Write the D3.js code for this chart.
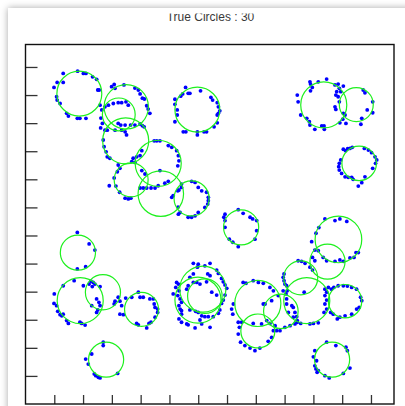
<!DOCTYPE html>
<html>
<head>
<meta charset="utf-8">
<script src="https://cdn.jsdelivr.net/npm/d3@7"></script>
<style>
  html, body { margin: 0; padding: 0; background: #ffffff; overflow: hidden; }
  #card {
    position: absolute; left: 8px; top: 8px; width: 520px; height: 520px;
    background: #ffffff; box-shadow: 0 0 7px rgba(0,0,0,0.35);
  }
  #chart { position: absolute; left: 0; top: 0; }
</style>
</head>
<body>
<div id="card"></div>
<svg id="chart" width="405" height="406"></svg>
<script>
// Fitted circles: centre and radius in plot units
const circleX = [18.7, 35.0, 32.4, 34.8, 46.1, 36.7, 47.0, 57.7, 59.7, 103.6,
                 114.9, 115.9, 74.9, 108.7, 104.9, 95.6, 97.7, 111.0, 80.7, 88.7,
                 80.7, 106.5, 18.2, 19.0, 26.9, 40.3, 28.0, 61.6, 59.9, 62.3];
const circleY = [110.5, 105.8, 103.1, 93.7, 85.7, 79.8, 74.9, 73.2, 104.8, 106.5,
                 106.6, 85.7, 62.9, 58.6, 50.7, 44.9, 36.8, 36.6, 35.8, 33.0,
                 26.0, 15.8, 53.9, 36.8, 39.8, 33.7, 15.8, 40.9, 37.0, 38.4];
const circleR = [7.8, 7.7, 5.7, 8.0, 8.0, 5.9, 7.9, 6.1, 7.8, 8.0,
                 5.9, 6.0, 6.1, 8.1, 6.1, 5.9, 8.0, 5.8, 8.0, 6.0,
                 5.9, 6.1, 6.1, 8.0, 6.1, 5.9, 6.1, 8.0, 8.0, 6.0];

// Noisy samples scattered around the circles
const samplePoints = [
  [13.1,117.7],[18.1,118.5],[20.1,117.7],[21.0,117.7],[23.3,116.5],[24.7,115.6],[25.1,111.8],[25.6,111.8],
  [9.9,112.7],[11.0,114.5],[13.1,114.5],[10.8,109.4],[11.0,108.2],[12.0,107.0],[14.3,103.5],[14.9,102.5],
  [18.0,101.7],[18.9,101.7],[21.0,101.7],
  [30.8,113.8],[29.9,113.0],[31.1,112.4],[34.2,113.6],[38.0,112.5],[25.9,106.4],[26.5,104.7],[27.6,105.8],
  [28.8,106.4],[30.5,107.0],[32.2,107.3],[33.4,107.3],[34.9,107.6],[35.7,106.4],[26.2,101.8],[26.7,99.9],
  [26.1,98.3],[32.2,99.9],[33.1,99.3],[34.6,99.3],[36.5,99.3],[38.0,99.3],[27.6,97.5],[28.4,97.5],
  [31.1,97.5],[33.4,97.5],[34.6,96.9],[35.1,95.8],[27.0,94.0],[27.3,91.6],[28.0,89.8],[28.4,88.0],
  [29.3,87.5],[32.2,85.1],[32.8,83.9],[31.9,82.7],[36.9,86.3],[37.4,87.5],[38.6,88.0],[39.2,111.8],
  [39.8,110.4],[40.6,108.9],[41.3,108.6],[42.1,106.2],[42.6,105.0],[43.2,103.5],[39.8,99.7],[40.6,99.1],
  [41.2,98.7],
  [44.7,93.7],[45.6,93.7],[46.7,93.7],[49.6,92.0],[50.8,91.4],[52.5,90.2],[53.1,88.4],[53.3,86.6],
  [52.9,84.8],[40.4,90.2],[39.8,88.4],[38.0,86.0],[39.8,76.9],[40.9,76.9],[42.1,76.9],[43.6,76.9],
  [45.0,76.9],[46.1,77.7],[48.4,78.6],[49.6,79.3],[40.4,83.1],[41.5,81.9],
  [29.1,77.7],[34.6,73.3],[35.7,73.0],[36.6,73.3],[30.8,80.5],[31.4,77.6],[32.7,75.4],[46.7,83.1],
  [50.8,73.6],[51.3,74.2],[52.9,75.9],[53.3,76.2],[54.2,77.1],[54.2,78.3],[57.7,79.3],[58.9,78.9],
  [60.0,77.1],[61.2,75.9],[62.9,75.4],[63.5,73.6],[63.5,72.4],[63.3,71.2],[62.3,70.0],[60.0,68.2],
  [58.9,67.0],[57.7,66.5],[56.5,66.5],[53.1,67.6],[53.7,68.2],[53.0,70.1],
  [55.6,112.7],[60.8,111.5],[54.6,110.4],[56.5,110.6],[57.1,110.6],[53.9,109.6],[51.9,108.5],[51.9,106.7],
  [52.7,104.7],[52.7,102.9],[51.9,100.5],[64.4,109.2],[65.0,108.2],[66.6,107.3],[67.0,105.8],[67.5,104.4],
  [67.0,103.5],[66.6,102.9],[66.6,100.1],[65.5,98.7],[54.8,96.9],[55.7,96.9],[59.7,96.9],[59.7,95.8],
  [62.0,96.9],[62.9,96.9],
  [98.8,114.7],[99.0,113.9],[101.7,114.7],[104.6,115.7],[99.6,112.7],[99.0,111.5],[94.4,110.0],[94.7,107.6],
  [95.6,102.9],[97.7,101.7],[98.6,100.5],[98.8,99.3],[100.5,97.8],[102.9,99.0],[103.7,99.0],[103.8,97.8],
  [107.5,113.6],[108.6,113.9],[109.0,112.4],[108.1,111.2],[109.5,111.2],[110.4,113.2],[107.8,110.0],[108.6,109.4],
  [109.0,107.6],[107.5,105.8],[107.8,104.9],[110.4,103.5],[111.0,102.9],[110.2,101.4],[111.3,99.9],[109.2,100.1],
  [117.3,111.8],[117.9,110.8],[120.6,107.6],[118.7,104.7],[120.6,103.7],[116.8,101.7],[116.5,99.6],
  [110.4,90.7],[111.2,90.2],[111.9,90.9],[112.7,91.0],[113.5,91.4],[117.7,91.0],[119.1,90.4],[120.2,89.5],
  [121.4,88.0],[122.0,86.9],[121.6,85.7],[120.6,83.9],[117.9,80.9],[109.5,86.9],[109.0,85.7],[108.8,84.5],
  [109.0,83.3],[109.8,82.1],[111.0,80.9],[112.1,80.7],[113.3,80.7],[113.8,80.0],[116.8,78.8],[115.6,77.6],
  [73.9,69.2],[75.6,67.9],[69.3,67.6],[68.9,66.5],[69.3,65.3],[78.0,66.5],[78.9,65.9],[80.3,65.3],
  [69.3,62.9],[70.8,58.7],[72.0,57.6],[73.9,56.0],[79.7,58.7],[80.3,61.7],
  [104.0,65.9],[107.5,65.3],[109.2,65.9],[111.6,65.0],[101.9,62.8],[100.9,60.8],[99.4,57.8],[100.5,54.8],
  [101.7,54.6],[114.8,53.9],[115.6,53.9],[99.7,52.2],[100.5,51.0],[103.4,52.2],[104.6,51.0],[107.5,50.8],
  [109.2,51.3],[110.4,50.8],[112.7,52.0],[114.1,52.2],
  [89.8,46.3],[89.5,45.1],[89.8,43.9],[90.1,42.7],[90.7,42.1],[94.7,51.0],[95.9,50.8],[97.1,50.1],
  [98.8,48.7],[99.7,47.7],[96.8,39.8],
  [90.9,40.3],[90.5,39.2],[90.7,35.6],[91.3,32.6],[93.0,30.9],[94.4,29.1],[95.6,28.7],[98.8,28.5],
  [100.0,28.7],[101.7,28.9],[104.0,40.9],[104.6,39.8],[104.0,38.6],[104.6,37.0],[104.0,35.6],[104.6,33.8],
  [103.7,32.6],
  [105.2,41.5],[106.3,40.9],[107.1,41.5],[108.6,42.1],[110.4,42.1],[111.8,42.0],[113.3,41.5],[115.0,40.9],
  [116.4,38.0],[116.8,36.8],[115.9,34.4],[115.0,33.8],[113.3,32.0],[111.0,31.4],[109.2,30.9],[108.3,30.3],
  [106.9,32.0],[106.0,32.6],
  [75.6,43.3],[76.6,43.0],[79.1,43.9],[80.9,43.3],[82.6,43.0],[84.9,41.5],[86.1,40.3],[87.8,38.6],
  [72.2,35.6],[71.6,33.8],[72.0,32.0],[75.1,29.1],[82.6,35.6],[83.2,35.6],[85.5,36.8],[79.1,28.7],
  [82.0,28.5],[84.9,28.7],
  [89.5,40.3],[90.7,37.4],[92.5,35.0],[93.0,34.4],[93.6,32.6],[94.2,31.1],[94.4,29.7],[93.6,28.5],
  [91.9,27.9],[90.1,27.3],[88.4,26.1],[87.2,26.1],[86.7,27.9],
  [73.9,29.1],[74.3,27.3],[73.9,24.9],[74.7,22.0],[76.2,20.8],[78.0,19.9],[79.7,19.0],[81.4,19.9],
  [84.3,22.3],[85.5,23.7],[86.1,26.1],[83.8,29.7],
  [104.6,22.0],[107.8,20.8],[111.3,20.2],[111.8,19.0],[100.5,19.0],[100.0,16.8],[101.1,15.4],[100.5,13.6],
  [100.9,12.5],[101.7,11.9],[101.3,11.3],[104.0,10.1],[105.5,9.3],[110.4,10.9],[112.7,12.8],
  [18.0,61.1],[22.1,57.0],[24.1,54.8],[20.9,48.9],[18.0,48.1],
  [10.0,39.2],[9.9,35.8],[10.8,35.0],[11.2,33.0],[12.0,31.8],[12.6,31.4],[13.1,32.0],[14.3,29.7],
  [14.9,28.7],[18.9,29.1],[19.5,28.7],[20.7,28.1],[13.1,42.1],[16.9,43.9],[20.1,42.1],[22.1,42.7],
  [22.7,43.7],[23.5,43.3],[24.1,42.7],[23.2,41.8],[25.9,41.8],[24.7,37.4],[25.5,36.2],[25.9,35.0],
  [25.1,33.5],[24.7,32.6],[23.0,35.0],[31.1,36.6],[30.8,35.6],[32.2,38.0],
  [32.8,36.6],[33.4,35.0],[32.8,32.0],[34.0,31.8],[34.8,37.7],[36.9,38.0],[39.2,39.8],[39.8,38.0],
  [40.9,38.0],[43.2,37.4],[44.4,37.4],[44.7,35.6],[45.0,34.4],[45.9,33.8],[45.9,32.6],[45.0,30.9],
  [43.6,29.1],[42.9,28.7],[42.1,27.1],[39.2,28.2],[38.6,28.7],
  [27.0,22.0],[27.0,20.8],[23.0,17.8],[20.9,16.0],[21.8,14.2],[23.9,10.7],[24.4,10.1],[25.3,9.5],
  [25.9,9.3],[32.0,10.9],
  [51.3,39.2],[52.2,41.5],[52.5,43.3],[53.1,42.7],[53.3,40.3],[52.9,38.6],[53.7,37.4],[54.2,36.2],
  [53.3,35.0],[53.7,33.8],[54.2,33.2],[54.2,32.0],[53.3,30.3],[54.2,29.1],[56.0,28.5],[56.5,28.2],
  [58.9,27.1],[61.2,28.5],[64.1,27.3],[57.1,45.1],[58.3,46.3],[59.7,48.7],[60.0,49.8],[62.3,49.2],
  [63.3,46.3],[64.1,45.7],[60.6,42.7],[59.5,43.3],[58.3,43.3],[56.5,42.1],[56.0,40.9],[59.1,33.0],
  [60.0,32.6],[61.2,31.4],[62.3,31.1],[63.5,31.1],[58.3,50.1],[64.1,50.1],[66.4,47.7],[67.0,46.5],
  [68.1,44.7],[68.7,43.5],[69.3,42.4],[69.9,41.2],[69.3,38.8],[68.7,37.0],[68.1,35.8],[67.5,33.5],
  [67.0,32.3],[65.2,31.1],[60.6,29.9],[57.1,33.5],[64.7,39.8],[66.4,38.8],[62.9,43.5]
];

// Unlabelled ticks every 10 units on both axes
const tickValues = [10, 20, 30, 40, 50, 60, 70, 80, 90, 100, 110, 120];
const chartTitle = "True Circles : 30";

(function draw() {
  const svg = d3.select("#chart");
  const plotLeft = 25.5, plotRight = 394, plotTop = 44.5, plotBottom = 404;

  const x = d3.scaleLinear().domain([0, 128]).range([plotLeft, plotRight]);
  const y = d3.scaleLinear().domain([0, 128]).range([plotBottom, plotTop]);

  // Title, cut at the top edge of its band
  svg.append("clipPath").attr("id", "titleClip")
    .append("rect").attr("x", 0).attr("y", 13.6).attr("width", 405).attr("height", 20);
  svg.append("text")
    .attr("clip-path", "url(#titleClip)")
    .attr("x", 210.5).attr("y", 21)
    .attr("text-anchor", "middle")
    .attr("font-family", "Liberation Sans, Arial, sans-serif")
    .attr("font-size", 12)
    .attr("fill", "#3a3a3a")
    .text(chartTitle);

  const plot = svg.append("g");

  // Axes with inward ticks
  const yAxis = plot.append("g").attr("transform", `translate(${plotLeft},0)`)
    .call(d3.axisLeft(y).tickValues(tickValues).tickSize(-12).tickFormat(""));
  const xAxis = plot.append("g").attr("transform", `translate(0,${plotBottom})`)
    .call(d3.axisBottom(x).tickValues(tickValues).tickSize(-9).tickFormat(""));
  [xAxis, yAxis].forEach(a => {
    a.select(".domain").remove();
    a.selectAll(".tick line").attr("stroke", "#333").attr("stroke-width", 1.3);
  });

  // Frame
  plot.append("rect")
    .attr("x", plotLeft).attr("y", plotTop)
    .attr("width", plotRight - plotLeft).attr("height", plotBottom - plotTop)
    .attr("fill", "none").attr("stroke", "#111").attr("stroke-width", 1.4);

  // Sample points
  plot.append("g").selectAll("circle")
    .data(samplePoints)
    .join("circle")
    .attr("cx", d => x(d[0]))
    .attr("cy", d => y(d[1]))
    .attr("r", 1.9)
    .attr("fill", "#0000ff");

  // Circles
  const circles = circleX.map((cx, i) => ({ cx, cy: circleY[i], r: circleR[i] }));
  plot.append("g").selectAll("circle")
    .data(circles)
    .join("circle")
    .attr("cx", d => x(d.cx))
    .attr("cy", d => y(d.cy))
    .attr("r", d => x(d.r) - x(0))
    .attr("fill", "none")
    .attr("stroke", "#1ef01e")
    .attr("stroke-width", 1.2);
})();
</script>
</body>
</html>
